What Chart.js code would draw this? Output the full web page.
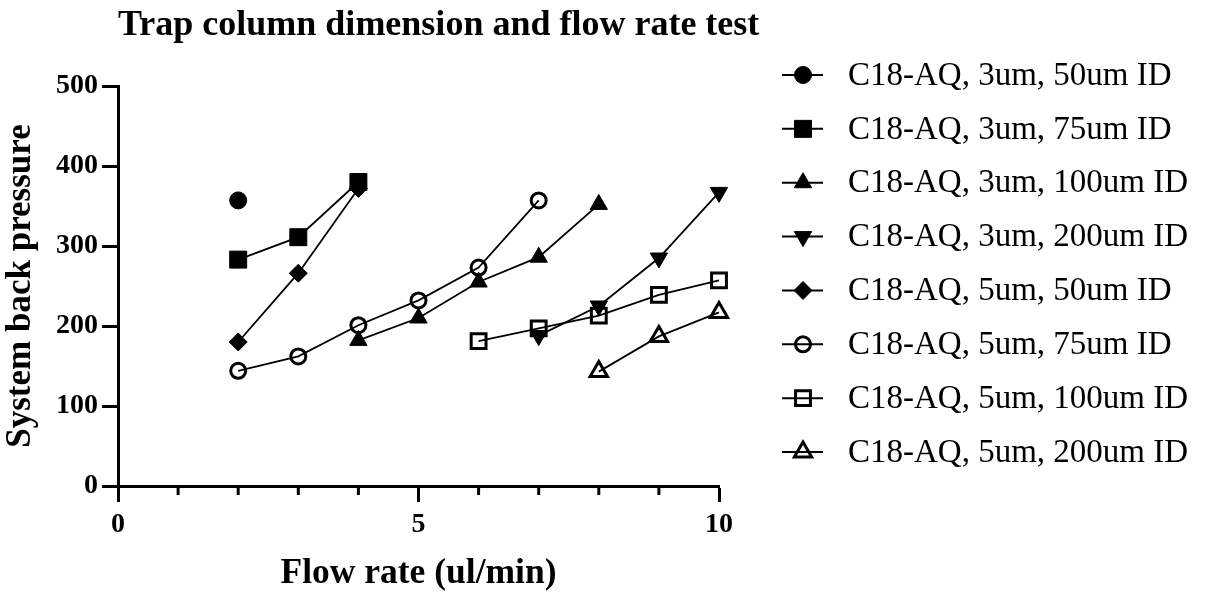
<!DOCTYPE html>
<html>
<head>
<meta charset="utf-8">
<script src="https://cdn.jsdelivr.net/npm/chart.js@4.4.0/dist/chart.umd.min.js"></script>
<style>
  html, body { margin: 0; padding: 0; background: #fff; }
  #wrap { width: 1209px; height: 595px; }
</style>
</head>
<body>
<div id="wrap"><canvas id="chTrap"></canvas></div>
<script>
// series names
var seriesNames = [
	'C18-AQ, 3um, 50um ID', 'C18-AQ, 3um, 75um ID', 'C18-AQ, 3um, 100um ID', 'C18-AQ, 3um, 200um ID',
	'C18-AQ, 5um, 50um ID', 'C18-AQ, 5um, 75um ID', 'C18-AQ, 5um, 100um ID', 'C18-AQ, 5um, 200um ID'
];

// flow rate (ul/min) and back pressure, one pair per column
var flow3_50 = [ 2 ];
var bp3_50 = [ 357 ];
var flow3_75 = [ 2, 3, 4 ];
var bp3_75 = [ 283, 311, 380 ];
var flow3_100 = [ 4, 5, 6, 7, 8 ];
var bp3_100 = [ 182, 210, 255, 286, 352 ];
var flow3_200 = [ 7, 8, 9, 10 ];
var bp3_200 = [ 188, 225, 285, 367 ];
var flow5_50 = [ 2, 3, 4 ];
var bp5_50 = [ 180, 266, 372 ];
var flow5_75 = [ 2, 3, 4, 5, 6, 7 ];
var bp5_75 = [ 144, 162, 201, 232, 273, 357 ];
var flow5_100 = [ 6, 7, 8, 9, 10 ];
var bp5_100 = [ 181, 197, 213, 239, 257 ];
var flow5_200 = [ 8, 9, 10 ];
var bp5_200 = [ 143, 187, 217 ];

var xTicks = [ 0, 5, 10 ];
var yTicks = [ 0, 100, 200, 300, 400, 500 ];

var serif = "'Liberation Serif', 'Times New Roman', serif";

function pts(xs, ys) {
	return xs.map(function (x, i) { return { x: x, y: ys[i] }; });
}

// marker styles (filled then open)
var markers = [
	{ style: 'circle', r: 8.5, rot: 0, fill: '#000', bw: 1 },
	{ style: 'rect', r: 12, rot: 0, fill: '#000', bw: 1 },
	{ style: 'triangle', r: 10, rot: 0, fill: '#000', bw: 1 },
	{ style: 'triangle', r: 10, rot: 180, fill: '#000', bw: 1 },
	{ style: 'rectRot', r: 9, rot: 0, fill: '#000', bw: 1 },
	{ style: 'circle', r: 7.5, rot: 0, fill: 'rgba(0,0,0,0)', bw: 3 },
	{ style: 'rect', r: 10.5, rot: 0, fill: 'rgba(0,0,0,0)', bw: 3 },
	{ style: 'triangle', r: 10, rot: 0, fill: 'rgba(0,0,0,0)', bw: 3 }
];

var seriesData = [
	pts(flow3_50, bp3_50), pts(flow3_75, bp3_75), pts(flow3_100, bp3_100), pts(flow3_200, bp3_200),
	pts(flow5_50, bp5_50), pts(flow5_75, bp5_75), pts(flow5_100, bp5_100), pts(flow5_200, bp5_200)
];

var datasets = seriesData.map(function (d, i) {
	var m = markers[i];
	return {
		label: seriesNames[i],
		data: d,
		borderColor: '#000',
		borderWidth: 1.8,
		pointStyle: m.style,
		pointRadius: m.r,
		pointRotation: m.rot,
		pointBackgroundColor: m.fill,
		pointBorderColor: '#000',
		pointBorderWidth: m.bw,
		clip: false
	};
});

// title, minor ticks and the legend at the right
var decor = {
	id: 'decor',
	afterDraw: function (chart) {
		var ctx = chart.ctx;
		var xs = chart.scales.x;
		var area = chart.chartArea;
		ctx.save();
		ctx.fillStyle = '#000';
		ctx.font = 'bold 36px ' + serif;
		ctx.textBaseline = 'alphabetic';
		ctx.textAlign = 'left';
		ctx.fillText('Trap column dimension and flow rate test', 118, 35);

		// minor x ticks
		ctx.strokeStyle = '#000';
		ctx.lineWidth = 3;
		for (var v = 1; v < 10; v++) {
			if (v === 5) continue;
			var px = xs.getPixelForValue(v);
			ctx.beginPath();
			ctx.moveTo(px, area.bottom);
			ctx.lineTo(px, area.bottom + 9);
			ctx.stroke();
		}

		// legend
		chart.data.datasets.forEach(function (ds, i) {
			var y = 75 + i * 53.86;
			ctx.strokeStyle = '#000';
			ctx.lineWidth = 2;
			ctx.beginPath();
			ctx.moveTo(782, y);
			ctx.lineTo(823, y);
			ctx.stroke();
			ctx.fillStyle = ds.pointBackgroundColor;
			ctx.lineWidth = ds.pointBorderWidth;
			Chart.helpers.drawPoint(ctx, {
				pointStyle: ds.pointStyle,
				radius: ds.pointRadius,
				rotation: ds.pointRotation,
				borderWidth: ds.pointBorderWidth
			}, 803, y);
			ctx.fillStyle = '#000';
			ctx.font = '33px ' + serif;
			ctx.textBaseline = 'middle';
			ctx.fillText(ds.label, 848, y + 1);
		});
		ctx.restore();
	}
};

var axisLine = { display: true, width: 3, color: '#000' };

new Chart(document.getElementById('chTrap'), {
	type: 'line',
	data: { datasets: datasets },
	options: {
		responsive: true,
		maintainAspectRatio: false,
		animation: false,
		layout: { padding: { top: 86, right: 490, left: 0, bottom: 0 } },
		plugins: { legend: { display: false }, title: { display: false }, tooltip: { enabled: false } },
		scales: {
			x: {
				type: 'linear',
				min: 0,
				max: 10,
				afterBuildTicks: function (s) { s.ticks = xTicks.map(function (v) { return { value: v }; }); },
				afterFit: function (s) { s.height = 109; },
				border: axisLine,
				grid: { drawOnChartArea: false, tickLength: 16, tickWidth: 3, tickColor: '#000' },
				ticks: { color: '#000', padding: 6, maxRotation: 0, font: { family: serif, size: 28, weight: 'bold' } },
				title: { display: true, text: 'Flow rate (ul/min)', color: '#000', padding: { top: 0, bottom: 3 },
					font: { family: serif, size: 35.5, weight: 'bold', lineHeight: 1 } }
			},
			y: {
				type: 'linear',
				min: 0,
				max: 500,
				afterBuildTicks: function (s) { s.ticks = yTicks.map(function (v) { return { value: v }; }); },
				afterFit: function (s) { s.width = 118; },
				border: axisLine,
				grid: { drawOnChartArea: false, tickLength: 16, tickWidth: 3, tickColor: '#000' },
				ticks: { color: '#000', padding: 4, font: { family: serif, size: 28, weight: 'bold' } },
				title: { display: true, text: 'System back pressure', color: '#000', padding: { top: 3, bottom: 0 },
					font: { family: serif, size: 35, weight: 'bold', lineHeight: 1 } }
			}
		}
	},
	plugins: [ decor ]
});
</script>
</body>
</html>
